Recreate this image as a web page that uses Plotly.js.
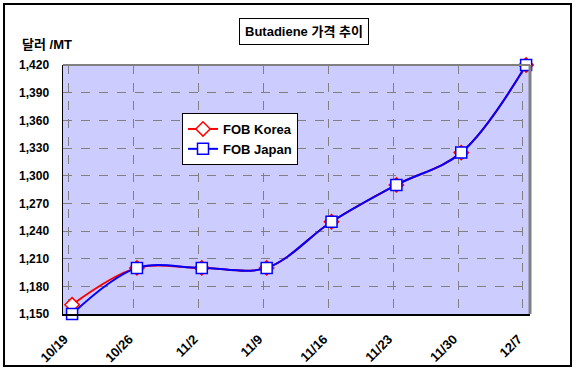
<!DOCTYPE html>
<html><head><meta charset="utf-8">
<script src="https://cdn.plot.ly/plotly-3.0.1.min.js"></script>
<style>html,body{margin:0;padding:0;background:#fff;}#chart{width:576px;height:371px;}</style>
</head><body><div id="chart"></div>
<script>
const categories = ["10/19","10/26","11/2","11/9","11/16","11/23","11/30","12/7"];
const fobKorea = [1160,1200,1200,1200,1250,1290,1325,1420];
const fobJapan = [1150,1200,1200,1200,1250,1290,1325,1420];
const yTicks = [1150,1180,1210,1240,1270,1300,1330,1360,1390,1420];

const idx = categories.map((c,i)=>i);
const fontF = "Liberation Sans, Arial, Noto Sans CJK KR, sans-serif";
const xRange = [-0.14, 7.06];

const traces = [
  {x: idx, y: fobJapan, xaxis: "x2", yaxis: "y", type: "scatter", mode: "markers",
   marker: {opacity: 0, size: 1}, showlegend: false, hoverinfo: "skip"},
  {x: idx, y: fobKorea, name: "<b>FOB Korea</b>", type: "scatter", mode: "lines+markers", cliponaxis: false,
   line: {color: "#FF0000", width: 2, shape: "spline", smoothing: 1},
   marker: {symbol: "diamond", size: 11, color: "#FFFFFF", line: {color: "#FF0000", width: 1.5}}},
  {x: idx, y: fobJapan, name: "<b>FOB Japan</b>", type: "scatter", mode: "lines+markers", cliponaxis: false,
   line: {color: "#0000FF", width: 2, shape: "spline", smoothing: 1},
   marker: {symbol: "square", size: 11, color: "#FFFFFF", line: {color: "#0000FF", width: 1.5}}}
];

const layout = {
  width: 576, height: 371,
  margin: {l: 63, r: 46, t: 65, b: 57, pad: 0},
  paper_bgcolor: "#FFFFFF",
  plot_bgcolor: "#CCCCFF",
  showlegend: true,
  font: {family: fontF, size: 12, color: "#000"},
  xaxis: {
    range: xRange,
    tickvals: idx.map(i=>i-0.05), showticklabels: false,
    showgrid: true, gridcolor: "#808080", griddash: "dash", gridwidth: 1,
    zeroline: false, showline: true, linecolor: "#000", linewidth: 1.5,
    ticks: ""
  },
  xaxis2: {
    overlaying: "x", anchor: "y", side: "bottom",
    range: xRange,
    tickvals: idx.map(i=>i-0.12), ticktext: categories.map(c=>"<b>"+c+"</b>"),
    tickangle: -45, showgrid: false, zeroline: false, showline: false, ticks: "",
    tickfont: {size: 13, family: fontF},
    ticklabelstandoff: 14
  },
  yaxis: {
    range: [1150, 1420],
    tickvals: yTicks, ticktext: yTicks.map(v=>"<b>"+v.toLocaleString("en-US")+"</b>"),
    showgrid: true, gridcolor: "#808080", griddash: "dash", gridwidth: 1,
    zeroline: false, showline: true, linecolor: "#000", linewidth: 1.5,
    ticks: "", tickfont: {size: 12, family: fontF},
    ticklabelstandoff: 10
  },
  legend: {
    x: (182-63)/467, y: (314-113)/249, xanchor: "left", yanchor: "top",
    bgcolor: "#FFFFFF", bordercolor: "#000", borderwidth: 1,
    font: {size: 13, family: fontF},
    itemwidth: 30, tracegroupgap: 0
  },
  shapes: [
    {type: "rect", xref: "paper", yref: "paper", x0: -0.1263, x1: 1.0878, y0: -0.2088, y1: 1.245,
     line: {color: "#000", width: 2}, fillcolor: "rgba(0,0,0,0)"},
    {type: "line", xref: "paper", yref: "paper", x0: 0, x1: 1, y0: 1, y1: 1, line: {color: "#808080", width: 2}},
    {type: "line", xref: "paper", yref: "paper", x0: 1, x1: 1, y0: 0, y1: 1, line: {color: "#808080", width: 3}}
  ],
  annotations: [
    {text: "<b>Butadiene 가격 추이</b>", xref: "paper", yref: "paper",
     x: (304-63)/467, y: (314-31)/249, xanchor: "center", yanchor: "middle", showarrow: false,
     bordercolor: "#000", borderwidth: 1, bgcolor: "#FFFFFF", borderpad: 5,
     font: {size: 13, family: fontF}},
    {text: "<b>달러 /MT</b>", xref: "paper", yref: "paper",
     x: (20-63)/467, y: (314-45)/249, xanchor: "left", yanchor: "middle", showarrow: false,
     font: {size: 13, family: fontF}}
  ]
};

Plotly.newPlot("chart", traces, layout, {displayModeBar: false, staticPlot: true});
</script></body></html>
